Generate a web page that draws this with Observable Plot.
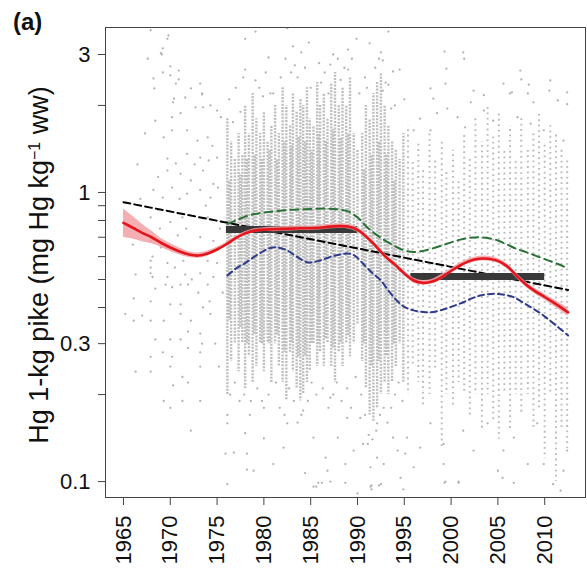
<!DOCTYPE html>
<html>
<head>
<meta charset="utf-8">
<script src="https://cdn.jsdelivr.net/npm/d3@7"></script>
<script src="https://cdn.jsdelivr.net/npm/@observablehq/plot@0.6"></script>
<style>
  html, body { margin: 0; padding: 0; background: #fff; }
  #chart svg { display: block; }
</style>
</head>
<body>
<div id="chart"></div>
<script>
// ---------- axis ticks ----------
const xTicks = [1965, 1970, 1975, 1980, 1985, 1990, 1995, 2000, 2005, 2010];
const yTicks = [0.1, 0.2, 0.3, 0.4, 0.5, 0.6, 0.7, 0.8, 0.9, 1, 2, 3];
const yTickLabels = [0.1, 0.3, 1, 3];

// ---------- individual fish (decimal year, Hg mg/kg) ----------
const fishPoints = [
  [1969.8,3.49],[1969.2,3.15],[1969.0,3.03],[1968.2,2.48],[1970.0,2.73],[1969.2,2.60],[1970.9,2.64],[1970.6,2.38],
  [1973.2,2.38],[1973.4,2.20],[1972.2,2.29],[1971.6,2.13],[1970.3,2.05],[1968.4,1.77],[1970.2,1.82],[1971.1,1.88],
  [1972.7,1.97],[1973.5,1.97],[1974.3,2.00],[1975.0,1.92],[1975.4,1.82],[1969.3,1.55],[1970.2,1.64],[1971.8,1.64],
  [1972.9,1.51],[1974.0,1.55],[1974.5,1.45],[1969.7,1.31],[1970.6,1.26],[1971.8,1.36],[1973.2,1.32],[1974.1,1.29],
  [1975.0,1.32],[1968.7,1.13],[1969.7,1.19],[1971.1,1.16],[1972.2,1.10],[1973.5,1.19],[1974.6,1.07],[1968.2,1.02],
  [1969.2,0.96],[1970.2,1.04],[1971.8,0.99],[1973.2,1.02],[1974.3,0.96],[1975.1,1.04],[1967.9,0.82],[1968.7,0.87],
  [1970.0,0.79],[1971.3,0.82],[1972.5,0.83],[1974.0,0.82],[1967.9,0.68],[1969.0,0.645],[1970.8,0.71],[1973.2,0.70],
  [1974.6,0.68],[1968.1,0.60],[1969.7,0.57],[1971.4,0.58],[1974.0,0.58],[1975.0,0.57],[1967.9,0.525],[1969.7,0.51],
  [1971.6,0.52],[1973.2,0.525],[1974.6,0.51],[1967.9,0.58],[1967.9,0.55],[1968.1,0.51],[1966.3,0.52],[1966.1,0.43],
  [1967.9,0.42],[1968.4,0.465],[1970.2,0.47],[1971.1,0.48],[1970.0,0.41],[1971.1,0.41],[1971.9,0.48],[1973.0,0.45],
  [1974.0,0.48],[1965.2,0.38],[1966.1,0.36],[1967.0,0.375],[1967.9,0.36],[1969.3,0.36],[1971.1,0.38],[1972.2,0.36],
  [1973.2,0.325],[1973.5,0.40],[1974.3,0.38],[1968.4,0.31],[1970.0,0.31],[1971.1,0.31],[1971.9,0.33],[1973.4,0.30],
  [1967.9,0.27],[1969.2,0.28],[1970.2,0.27],[1971.9,0.29],[1973.2,0.28],[1966.3,0.24],[1967.9,0.24],[1970.0,0.25],
  [1971.3,0.23],[1971.9,0.22],[1973.2,0.25],[1970.3,0.215],[1969.3,0.19],[1970.0,0.18],[1971.3,0.19],[1973.2,0.19],
  [1972.2,0.15],[1967.9,3.64],[1969.7,3.40],[1969.1,3.0],[1968.3,2.29],[1970.0,2.54],[1970.9,2.46],[1973.4,2.18],
  [1970.4,2.11],
  [1966.0,0.66],[1966.5,1.25],[1966.8,0.95],[1967.3,1.6],[1967.6,2.9],[1968.9,0.75],[1969.5,0.48],[1970.5,0.55],
  [1971.0,0.95],[1971.7,0.75],[1972.3,0.5],[1972.6,1.25],[1973.8,0.9],[1974.2,0.42],[1974.8,0.3],[1975.3,0.75],
  [1975.6,0.45],[1975.2,0.25],
  [1978.0,3.4],[1979.1,3.6],[1982.5,3.7],[1980.5,2.93],[1982.3,2.9],[1983.1,3.2],[1984.0,3.05],[1987.1,2.77],
  [1989.0,3.12],[1989.9,3.4],[1991.3,3.28],[1993.3,3.6],[1992.5,3.05],[1992.7,2.86],[1999.3,3.07],[2001.4,2.9],
  [1999.5,2.68],[2007.5,2.46],[2008.3,2.36],[2006.5,2.22],[2010.5,2.25],[2012.4,2.02],[2003.5,2.17],[1998.1,2.11],
  [1978.0,2.66],[1979.1,2.44],[1989.0,2.66],[1993.8,2.62],[1994.5,2.66],[1992.7,2.25],[1993.3,2.36],
  [2001.3,3.05],[2007.4,2.64],[2010.6,2.44],[1999.4,2.38],[1997.8,2.29],[2002.4,2.25],[2005.6,2.38],[2006.3,2.2],
  [2008.2,2.2],[2008.8,2.05],[2011.4,2.08],[2012.4,2.22],[1999.6,1.95],[2002.1,2.05],[2003.5,1.92],[1996.7,1.8],
  [1998.5,1.88],[2000.7,1.82],[1996.0,1.64],[1997.8,1.64],[2001.5,1.68],[2004.5,1.77],[2007.1,1.82],[2008.5,1.73],
  [2009.9,1.64],[2012.0,1.51],
  [1976.3,2.1],[1977.0,2.3],[1977.5,1.9],[1979.5,2.3],[1980.2,2.6],[1981.0,2.2],[1981.8,2.5],[1983.6,2.5],
  [1984.4,2.7],[1985.0,2.3],[1985.9,2.8],[1986.5,2.6],[1987.9,2.9],[1988.6,2.7],[1990.2,2.2],[1990.8,2.5],
  [1991.9,2.7],[1993.0,2.4],[1994.0,2.0],[1995.0,2.1],
  [1977.8,2.5],[1980.7,2.2],[1982.9,2.6],[1984.8,3.3],[1986.1,2.4],[1987.4,3.0],[1988.2,2.45],[1989.4,2.9],
  [1991.0,2.3],[1992.3,2.9],[1993.6,1.95],[1976.7,1.75],[1979.9,2.15],[1983.3,2.75],[1986.9,2.2],
  [1976.9,0.22],[1977.4,0.19],[1977.9,0.2],[1978.5,0.17],[1979.3,0.21],[1979.8,0.19],[1980.5,0.2],[1981.3,0.22],
  [1981.7,0.18],[1982.2,0.17],[1982.7,0.21],[1983.2,0.19],[1983.6,0.16],[1984.0,0.17],[1984.7,0.19],[1985.1,0.22],
  [1985.6,0.2],[1986.3,0.21],[1986.9,0.18],[1987.4,0.2],[1987.8,0.22],[1988.3,0.19],[1988.9,0.21],[1989.3,0.18],
  [1989.8,0.23],[1990.4,0.2],[1990.8,0.17],[1991.2,0.145],[1991.6,0.14],[1992.0,0.15],[1992.4,0.17],[1992.8,0.18],
  [1993.2,0.16],[1993.6,0.18],[1994.0,0.2],[1994.4,0.22],[1994.8,0.19],
  [1987.1,0.195],[1988.9,0.166],[1990.6,0.135],[1991.4,0.112],[1992.5,0.098],[1991.4,0.096],[1994.3,0.128],
  [1995.3,0.142],[1996.7,0.131],[1997.8,0.159],[1999.2,0.115],[1999.2,0.135],[1999.4,0.10],[2000.8,0.10],
  [2001.3,0.15],[2002.4,0.128],[2003.9,0.159],[2005.0,0.109],[2005.6,0.128],[2006.7,0.142],[2008.2,0.115],
  [2009.2,0.159],[2009.9,0.115],[2010.9,0.098],[2011.7,0.093],[2012.0,0.109],[2012.4,0.128],[1992.8,0.115],
  [1996.0,0.112],[1976.1,0.098],[1985.6,0.096],[1986.2,0.099],[1990.0,0.091],[1991.5,0.097],[1991.5,0.094],
  [1992.3,0.097],[1994.9,0.094],[1999.3,0.099],[2000.8,0.099],[2005.5,0.103],[2006.7,0.099],
  [1976.1,0.159],[1975.9,0.125],[1976.8,0.126],[1978.0,0.147],[1978.2,0.125],[1978.9,0.109],[1980.0,0.141],
  [1981.0,0.115],[1982.1,0.131],[1982.5,0.159],[1984.4,0.107],[1985.3,0.142],[1986.6,0.121],[1986.8,0.109],
  [1987.9,0.142],[1988.7,0.115],[1989.6,0.128],[1991.1,0.135],[1992.1,0.121],[1993.8,0.142],[1994.6,0.103],
  [1995.1,0.125],[1992.1,0.159],[1990.3,0.166],[1984.2,0.176],[1980.0,0.18],[1978.6,0.19],[1976.4,0.20],
  [1976.1,0.17],[1978.2,0.11],[1985.3,0.096],[1985.8,0.099],[1987.1,0.10],[1988.7,0.099]
];

// ---------- heavily sampled dates: [year, lowest Hg, highest Hg] ----------
const denseSamplings = [
  [1976.1,0.2,1.8],[1976.5,0.26,1.5],[1976.9,0.3,1.3],[1977.3,0.24,1.6],[1977.7,0.3,1.35],
  [1978.0,0.21,2.0],[1978.4,0.27,1.6],[1978.8,0.22,2.2],[1979.2,0.25,1.8],[1979.6,0.3,1.6],
  [1980.0,0.24,1.9],[1980.4,0.3,1.5],[1980.8,0.22,1.7],[1981.2,0.3,2.0],[1981.6,0.25,1.6],
  [1982.0,0.22,2.3],[1982.4,0.19,2.0],[1982.8,0.28,1.7],[1983.1,0.24,2.2],[1983.5,0.21,1.9],
  [1983.9,0.19,2.1],[1984.2,0.2,2.0],[1984.6,0.22,2.3],[1984.9,0.24,1.8],[1985.3,0.3,1.7],
  [1985.7,0.25,2.4],[1986.0,0.28,2.0],[1986.4,0.25,2.2],[1986.8,0.3,1.8],[1987.2,0.25,2.4],
  [1987.6,0.22,2.6],[1988.0,0.28,2.0],[1988.4,0.25,2.3],[1988.8,0.3,2.0],[1989.2,0.27,2.5],
  [1989.6,0.3,1.6],[1990.0,0.35,1.4],[1990.5,0.26,1.6],[1990.9,0.21,2.0],[1991.3,0.17,1.8],
  [1991.7,0.16,2.2],[1992.1,0.18,2.4],[1992.5,0.2,2.6],[1992.9,0.22,2.0],[1993.3,0.2,1.7],
  [1993.7,0.22,1.5],[1994.1,0.25,1.4],[1994.5,0.3,1.3],[1994.9,0.22,1.6]
];
// ---------- where most fish of those dates lie: [year, low, high] ----------
const coreSamplings = [
  [1976.3,0.36,1.1],[1977.5,0.34,1.15],[1978.2,0.3,1.3],[1979.0,0.32,1.35],[1979.8,0.3,1.3],
  [1980.6,0.3,1.4],[1981.4,0.32,1.3],[1982.2,0.28,1.5],[1982.95,0.3,1.45],[1983.7,0.27,1.55],
  [1984.4,0.27,1.5],[1985.1,0.3,1.4],[1985.85,0.3,1.6],[1986.6,0.31,1.5],[1987.4,0.29,1.65],
  [1988.2,0.3,1.55],[1989.0,0.32,1.6],[1990.7,0.3,1.2],[1991.5,0.25,1.35],[1992.3,0.26,1.5],
  [1993.1,0.27,1.35],[1993.9,0.3,1.1]
];
const sparseSamplings = [
  [1995.4,0.2,1.7],[1995.9,0.25,1.3],[1996.5,0.22,1.5],[1997.0,0.18,1.2],[1997.7,0.2,1.6],
  [1998.3,0.24,1.3],[1999.0,0.13,1.5],[1999.5,0.2,1.2],[2000.2,0.18,1.4],[2000.8,0.22,1.1],
  [2001.4,0.2,1.6],[2002.0,0.17,1.3],[2002.6,0.2,1.8],[2003.3,0.15,1.5],[2003.9,0.2,2.0],
  [2004.5,0.16,1.6],[2005.1,0.14,1.9],[2005.7,0.2,1.4],[2006.3,0.15,1.7],[2006.9,0.2,1.3],
  [2007.5,0.17,1.8],[2008.2,0.2,1.4],[2008.8,0.15,1.6],[2009.4,0.18,1.9],[2010.0,0.12,1.5],
  [2010.6,0.2,1.7],[2011.2,0.1,1.6],[2011.8,0.15,1.4],[2012.4,0.13,1.3]
];

// ---------- fitted smooth (red) with confidence band ----------
const fitYear = [1965,1966,1967,1968,1969,1970,1971,1972,1973,1974,1975,1976,1977,1978,1979,1980,
  1981,1982,1983,1984,1985,1986,1987,1988,1989,1990,1991,1992,1993,1994,1995,1996,1997,1998,1999,
  2000,2001,2002,2003,2004,2005,2006,2007,2008,2009,2010,2011,2012,2012.5];
const fitHg = [0.785,0.755,0.725,0.70,0.67,0.645,0.625,0.61,0.605,0.615,0.635,0.662,0.695,0.722,0.738,0.744,
  0.746,0.748,0.750,0.752,0.752,0.755,0.762,0.765,0.762,0.742,0.700,0.650,0.600,0.563,0.525,0.496,0.487,0.492,0.510,
  0.535,0.560,0.580,0.590,0.590,0.580,0.555,0.515,0.480,0.455,0.435,0.415,0.395,0.385];
const fitLo = [0.70,0.69,0.676,0.665,0.647,0.625,0.608,0.596,0.592,0.603,0.624,0.651,0.684,0.711,0.727,0.733,
  0.732,0.734,0.736,0.738,0.738,0.741,0.748,0.751,0.748,0.728,0.687,0.638,0.589,0.552,0.515,0.486,0.478,0.483,0.500,
  0.525,0.549,0.569,0.578,0.578,0.569,0.544,0.505,0.470,0.445,0.425,0.404,0.383,0.372];
const fitHi = [0.877,0.827,0.777,0.736,0.694,0.666,0.643,0.624,0.618,0.627,0.646,0.673,0.706,0.733,0.749,0.755,
  0.760,0.762,0.764,0.766,0.766,0.769,0.776,0.779,0.776,0.756,0.713,0.662,0.611,0.574,0.535,0.506,0.496,0.501,0.520,
  0.545,0.571,0.591,0.602,0.602,0.591,0.566,0.525,0.490,0.465,0.445,0.426,0.407,0.398];

// ---------- upper (green) and lower (blue) dashed curves ----------
const upperYear = [1976.1,1977,1978,1979,1980,1981,1982,1983,1984,1985,1986,1987,1988,1989,1990,1991,1992,
  1993,1994,1995,1996,1997,1998,1999,2000,2001,2002,2003,2004,2005,2006,2007,2008,2009,2010,2011,2012,2012.5];
const upperHg = [0.779,0.80,0.825,0.842,0.852,0.86,0.866,0.871,0.874,0.877,0.879,0.879,0.873,0.86,0.82,0.76,0.715,
  0.68,0.652,0.63,0.622,0.628,0.64,0.655,0.672,0.687,0.697,0.70,0.695,0.682,0.66,0.638,0.622,0.605,0.588,0.572,0.555,0.545];
const lowerYear = [1976.1,1977,1978,1979,1980,1980.7,1981.5,1982.5,1983.5,1984.6,1985.3,1986,1987,1988,1989,1989.7,
  1990.6,1991.5,1992.5,1993.3,1994.2,1995,1996,1997,1997.8,1999,2000,2001.3,2002.2,2003.1,2004,2004.9,2006,2006.7,
  2007.6,2008.5,2009.4,2010.3,2011.4,2012.5];
const lowerHg = [0.516,0.545,0.57,0.60,0.628,0.643,0.645,0.63,0.60,0.574,0.574,0.582,0.597,0.609,0.615,0.605,
  0.567,0.53,0.496,0.458,0.423,0.402,0.391,0.386,0.385,0.392,0.402,0.417,0.43,0.44,0.445,0.446,0.441,0.434,
  0.418,0.401,0.385,0.366,0.343,0.32];

// ---------- log-linear trend (black dashed) ----------
const trendYear = [1965, 2012.5];
const trendHg = [0.925, 0.46];

// ---------- period means (dark bars) ----------
const periodStart = [1976, 1995.7];
const periodEnd = [1990, 2010];
const periodHg = [0.745, 0.512];

// ---------- build tables ----------
const fit = fitYear.map((t, i) => ({t, v: fitHg[i], lo: fitLo[i], hi: fitHi[i]}));
const upper = upperYear.map((t, i) => ({t, v: upperHg[i]}));
const lower = lowerYear.map((t, i) => ({t, v: lowerHg[i]}));
const trend = trendYear.map((t, i) => ({t, v: trendHg[i]}));
const periods = periodStart.map((s, i) => ({s, e: periodEnd[i], v: periodHg[i]}));

const FONT = "'Liberation Sans', Arial, Helvetica, sans-serif";
const GREY = "#bdbdbd";

const chart = Plot.plot({
  width: 587,
  height: 573,
  marginLeft: 105,
  marginRight: 2,
  marginTop: 27,
  marginBottom: 76,
  style: {fontFamily: FONT, fontSize: "22px", color: "#111", background: "#fff"},
  x: {domain: [1963.08, 2014.36]},
  y: {type: "log", domain: [0.0881, 3.72]},
  marks: [
    Plot.ruleX(denseSamplings, {x: d => d[0], y1: d => d[1], y2: d => d[2],
      stroke: GREY, strokeWidth: 2.4, strokeDasharray: "2,1.3", className: "col-dense"}),
    Plot.ruleX(coreSamplings, {x: d => d[0], y1: d => d[1], y2: d => d[2],
      stroke: GREY, strokeWidth: 2.6, strokeDasharray: "2.2,1", className: "col-core"}),
    Plot.ruleX(sparseSamplings, {x: d => d[0], y1: d => d[1], y2: d => d[2],
      stroke: GREY, strokeWidth: 2, strokeDasharray: "1.8,3.6", className: "col-sparse"}),
    Plot.dot(fishPoints, {x: d => d[0], y: d => d[1], r: 1.15, fill: "#b3b3b3", stroke: null}),
    Plot.line(trend, {x: "t", y: "v", stroke: "#000", strokeWidth: 2, strokeDasharray: "7,4"}),
    Plot.ruleY(periods, {x1: "s", x2: "e", y: "v", stroke: "#383838", strokeWidth: 7}),
    Plot.line(upper, {x: "t", y: "v", stroke: "#2a7136", strokeWidth: 2, strokeDasharray: "8,5", curve: "catmull-rom"}),
    Plot.line(lower, {x: "t", y: "v", stroke: "#2e3a8c", strokeWidth: 2, strokeDasharray: "6,4", curve: "catmull-rom"}),
    Plot.areaY(fit, {x: "t", y1: "lo", y2: "hi", fill: "#f3a1a6", fillOpacity: 0.85, curve: "catmull-rom"}),
    Plot.line(fit, {x: "t", y: "v", stroke: "#e3161d", strokeWidth: 2.6, curve: "catmull-rom"}),
    Plot.frame({stroke: "#444", strokeWidth: 1}),
    Plot.axisX(xTicks, {tickRotate: -90, tickSize: 8, tickPadding: 10, tickFormat: d => String(d),
      label: null, fontSize: 22, stroke: "#444"}),
    Plot.axisY(yTicks, {tickSize: 7, tickPadding: 8,
      tickFormat: d => yTickLabels.includes(d) ? String(d) : "",
      label: null, fontSize: 22, stroke: "#444"})
  ]
});

document.getElementById("chart").appendChild(chart);

const svg = d3.select(chart);
// stagger the dash phase of neighbouring sampling columns so dots do not line up in rows
svg.selectAll(".col-dense line, .col-core line, .col-sparse line")
  .attr("stroke-dashoffset", (d, i) => (i * 1.37) % 3.3);

// panel letter and y-axis title
svg.append("text")
  .attr("x", 13).attr("y", 30)
  .attr("text-anchor", "start")
  .attr("font-family", FONT).attr("font-size", 24).attr("font-weight", "bold")
  .attr("fill", "#111")
  .text("(a)");
const yl = svg.append("text")
  .attr("transform", "translate(48,265) rotate(-90)")
  .attr("text-anchor", "middle")
  .attr("font-family", FONT).attr("font-size", 27)
  .attr("fill", "#111");
yl.append("tspan").text("Hg 1-kg pike (mg Hg kg");
yl.append("tspan").attr("baseline-shift", "super").attr("font-size", 16).text("−1");
yl.append("tspan").text(" ww)");
</script>
</body>
</html>
